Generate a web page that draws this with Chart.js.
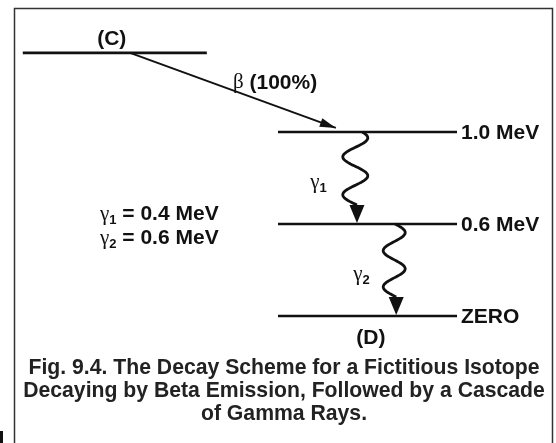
<!DOCTYPE html>
<html>
<head>
<meta charset="utf-8">
<script src="https://cdn.jsdelivr.net/npm/chart.js@4.4.0/dist/chart.umd.min.js"></script>
<style>
html, body { margin: 0; padding: 0; background: #fff; }
canvas { display: block; }
</style>
</head>
<body>
<canvas id="decay" width="556" height="443"></canvas>
<script>
// Данные схемы распада
const levelLabels = ['ZERO', '0.6 MeV', '1.0 MeV'];
const levelEnergies = [0, 0.6, 1.0];
const parentLabel = '(C)';
const daughterLabel = '(D)';
const betaBranch = '100%';
const gammaNames = ['1', '2'];      // индексы γ
const gammaFrom = [2, 1];           // индекс уровня, откуда
const gammaTo = [1, 0];             // индекс уровня, куда
const gammaEnergies = [0.4, 0.6];   // MeV
const captionLines = [
    'Fig. 9.4. The Decay Scheme for a Fictitious Isotope',
    'Decaying by Beta Emission, Followed by a Cascade',
    'of Gamma Rays.'
];

// Разметка (не данные): уровни нарисованы через равные промежутки
const PARENT_ROW = 2.86;
const PARENT_X = [4.1, 37.2];
const LEVEL_X = [50, 82.2];
const BETA_X = [23.4, 60.4];
const GAMMA_X = [63.9, 70.9];
const GAMMA_WAVE = [
    { amp: 12.5, p0: 0.6, span: 12.1 },
    { amp: 11, p0: 0.09, span: 12.66 }
];

const BOLD = 'bold 21px "Liberation Sans", Arial, Helvetica, sans-serif';
const CAPTION = 'bold 21.2px "Liberation Sans", Arial, Helvetica, sans-serif';
const SUB = 'bold 13px "Liberation Sans", Arial, Helvetica, sans-serif';
const GREEK = '21px "Liberation Serif", "Times New Roman", serif';
const INK = '#111';

// Строка из кусков с разными шрифтами
function drawRuns(ctx, runs, x, y, align) {
    let total = 0;
    runs.forEach(r => { ctx.font = r.font; total += ctx.measureText(r.text).width; });
    let cx = align === 'center' ? x - total / 2 : x;
    ctx.textAlign = 'left';
    runs.forEach(r => {
        ctx.font = r.font;
        ctx.fillText(r.text, cx, y + (r.dy || 0));
        cx += ctx.measureText(r.text).width;
    });
}

function arrowHead(ctx, tipX, tipY, fromX, fromY, len, half) {
    const a = Math.atan2(tipY - fromY, tipX - fromX);
    const bx = tipX - len * Math.cos(a), by = tipY - len * Math.sin(a);
    ctx.beginPath();
    ctx.moveTo(tipX, tipY);
    ctx.lineTo(bx + half * Math.sin(a), by - half * Math.cos(a));
    ctx.lineTo(bx - half * Math.sin(a), by + half * Math.cos(a));
    ctx.closePath();
    ctx.fill();
}

const levelRows = levelEnergies.map((e, i) => i);

const datasets = [];
levelRows.forEach((row, i) => {
    datasets.push({
        label: levelLabels[i],
        data: [{ x: LEVEL_X[0], y: row }, { x: LEVEL_X[1], y: row }],
        showLine: true, borderColor: INK, borderWidth: 2.6, pointRadius: 0
    });
});
datasets.push({
    label: parentLabel,
    data: [{ x: PARENT_X[0], y: PARENT_ROW }, { x: PARENT_X[1], y: PARENT_ROW }],
    showLine: true, borderColor: INK, borderWidth: 2.6, pointRadius: 0
});
// β-переход: от родительского уровня к 1.0 MeV
datasets.push({
    label: 'beta',
    data: [{ x: BETA_X[0], y: PARENT_ROW }, { x: BETA_X[1], y: levelRows[2] + 0.045 }],
    showLine: true, borderColor: INK, borderWidth: 2, pointRadius: 0
});

const schemePlugin = {
    id: 'scheme',
    afterDatasetsDraw(chart) {
        const ctx = chart.ctx;
        const xs = chart.scales.x, ys = chart.scales.y;
        ctx.save();

        // Рамка
        ctx.strokeStyle = '#333';
        ctx.lineWidth = 1.5;
        ctx.beginPath();
        ctx.moveTo(14.5, 443);
        ctx.lineTo(14.5, 8.5);
        ctx.lineTo(552.5, 8.5);
        ctx.lineTo(552.5, 443);
        ctx.stroke();
        ctx.fillStyle = '#111';
        ctx.fillRect(0, 431, 3, 12);

        // Стрелка β
        ctx.fillStyle = INK;
        const b0 = { x: xs.getPixelForValue(BETA_X[0]), y: ys.getPixelForValue(PARENT_ROW) };
        const b1 = { x: xs.getPixelForValue(BETA_X[1]), y: ys.getPixelForValue(levelRows[2] + 0.045) };
        arrowHead(ctx, b1.x, b1.y, b0.x, b0.y, 16, 4.5);

        // Гамма-переходы: волнистые линии со стрелкой
        gammaFrom.forEach((from, i) => {
            const c = xs.getPixelForValue(GAMMA_X[i]);
            const w = GAMMA_WAVE[i];
            const y0 = ys.getPixelForValue(levelRows[from]);
            const yTip = ys.getPixelForValue(levelRows[gammaTo[i]]) - 1;
            const yBase = yTip - 18;
            ctx.strokeStyle = INK;
            ctx.lineWidth = 2.8;
            ctx.beginPath();
            for (let k = 0; k <= 80; k++) {
                const t = k / 80;
                const px = c + w.amp * Math.sin(w.p0 + t * w.span);
                const py = y0 + t * (yBase - y0);
                if (k === 0) ctx.moveTo(px, py); else ctx.lineTo(px, py);
            }
            ctx.stroke();
            const endX = c + w.amp * Math.sin(w.p0 + w.span);
            ctx.beginPath();
            ctx.moveTo(endX, yTip);
            ctx.lineTo(endX - 7.5, yBase);
            ctx.lineTo(endX + 7.5, yBase);
            ctx.closePath();
            ctx.fill();

            // подпись γ
            const ly = (y0 + yTip) / 2 + 5;
            ctx.textBaseline = 'middle';
            drawRuns(ctx, [
                { text: 'γ', font: GREEK },
                { text: gammaNames[i], font: SUB, dy: 6 }
            ], c - 45 + (i === 1 ? 4 : 0), ly, 'left');
        });

        // Подписи уровней
        ctx.textBaseline = 'middle';
        ctx.font = BOLD;
        ctx.textAlign = 'left';
        const labelX = xs.getPixelForValue(LEVEL_X[1]) + 4;
        levelRows.forEach((row, i) => {
            ctx.fillText(levelLabels[i], labelX, ys.getPixelForValue(row) + 1);
        });
        ctx.textAlign = 'center';
        ctx.fillText(parentLabel, xs.getPixelForValue(20.1), ys.getPixelForValue(PARENT_ROW) - 14);
        ctx.fillText(daughterLabel, xs.getPixelForValue(66.7), ys.getPixelForValue(levelRows[0]) + 22);

        // β (100%)
        drawRuns(ctx, [
            { text: 'β', font: GREEK },
            { text: ' (' + betaBranch + ')', font: BOLD }
        ], xs.getPixelForValue(41.9), ys.getPixelForValue(PARENT_ROW) + 30, 'left');

        // Энергии γ
        gammaEnergies.forEach((e, i) => {
            drawRuns(ctx, [
                { text: 'γ', font: GREEK },
                { text: gammaNames[i], font: SUB, dy: 6 },
                { text: ' = ' + e.toFixed(1) + ' MeV', font: BOLD }
            ], 100, 214 + i * 24, 'left');
        });

        // Подпись рисунка
        ctx.fillStyle = '#222';
        ctx.font = CAPTION;
        ctx.textAlign = 'center';
        captionLines.forEach((line, i) => {
            ctx.fillText(line, 284, 368 + i * 23);
        });
        ctx.restore();
    }
};

new Chart(document.getElementById('decay'), {
    type: 'scatter',
    data: { datasets },
    options: {
        responsive: false,
        animation: false,
        layout: { padding: 0 },
        plugins: { legend: { display: false }, tooltip: { enabled: false } },
        scales: {
            x: { type: 'linear', min: 0, max: 100, display: false },
            y: { type: 'linear', min: -1.380, max: 3.435, display: false }
        }
    },
    plugins: [schemePlugin]
});
</script>
</body>
</html>
